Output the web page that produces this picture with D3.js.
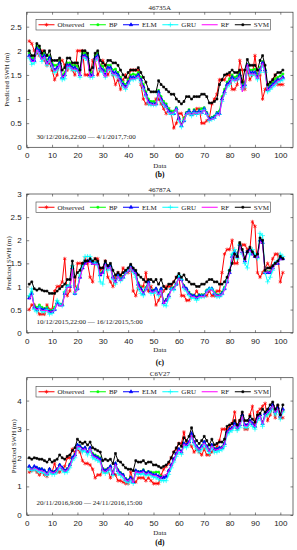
<!DOCTYPE html>
<html>
<head>
<meta charset="utf-8">
<script src="https://cdn.jsdelivr.net/npm/d3@7"></script>
<style>
  body { margin: 0; background: #fff; }
  svg { display: block; }
</style>
</head>
<body>
<div id="chart"></div>
<script>
// series / legend
const seriesNames = ["Observed", "BP", "ELM", "GRU", "RF", "SVM"];
const seriesColors = ["#ff0000", "#00ff00", "#0000ff", "#00ffff", "#ff00ff", "#000000"];
const seriesSymbols = ["asterisk", "square", "triangle", "plus", null, "square"];

const titles = ["46735A", "46787A", "C6V27"];
const dateLabels = [
  "30/12/2016,22:00 \u2014 4/1/2017,7:00",
  "10/12/2015,22:00 \u2014 16/12/2015,5:00",
  "20/11/2016,9:00 \u2014 24/11/2016,15:00"
];
const subLabels = ["(b)", "(c)", "(d)"];
const xTicks = [0, 10, 20, 30, 40, 50, 60, 70, 80, 90, 100];
const yTicksB = [0, 0.5, 1, 1.5, 2, 2.5];
const yTicksC = [0, 0.5, 1, 1.5, 2, 2.5, 3];
const yTicksD = [0, 1, 2, 3, 4];

// ---- 46735A (b)
const obsB = [2.2,2.15,2.0,1.95,1.9,2.0,1.8,1.7,1.75,1.6, 1.4,1.5,1.8,1.8,1.7,1.6,1.7,1.6,1.5,2.0, 2.0,2.0,1.5,1.5,1.5,1.8,1.8,1.5,1.6,1.8, 1.7,1.5,1.6,1.5,1.3,1.4,1.2,1.4,1.5,1.4, 1.6,1.6,1.6,1.6,1.3,1.0,0.9,0.9,0.9,0.9, 1.0,1.0,0.9,0.8,0.7,0.8,0.7,0.4,0.5,0.7, 0.7,0.6,0.7,0.7,0.7,0.7,0.8,0.8,0.5,0.5, 0.55,0.6,0.9,1.0,1.1,1.4,1.4,1.4,1.5,1.5, 1.2,1.2,1.3,1.8,1.6,1.2,1.6,1.4,1.5,1.9, 1.5,1.5,1.0,1.2,1.3,1.3,1.4,1.5,1.3,1.3, 1.3];
const bpB = [1.95,1.85,1.85,2.1,2.05,1.9,1.95,1.8,1.9,1.75, 1.7,1.7,1.8,1.5,1.55,1.75,1.75,1.7,1.7,1.68, 1.55,1.95,1.95,1.9,1.55,1.55,1.9,1.95,1.7,1.68, 1.58,1.7,1.7,1.6,1.62,1.55,1.45,1.35,1.3,1.4, 1.5,1.52,1.5,1.55,1.45,1.3,1.15,1.0,0.95,0.95, 0.92,1.18,1.05,0.95,0.9,0.8,0.75,0.75,0.82,0.62, 0.48,0.6,0.72,0.78,0.7,0.78,0.72,0.78,0.8,0.82, 0.72,0.6,0.62,0.65,0.72,0.75,1.05,1.2,1.35,1.42, 1.5,1.45,1.48,1.55,1.3,1.35,1.72,1.6,1.6,1.62, 1.5,1.65,1.78,1.62,1.25,1.3,1.35,1.42,1.45,1.48, 1.52];
const elmB = [1.9,1.8,1.8,2.05,2.0,1.85,1.9,1.75,1.85,1.7, 1.6,1.65,1.75,1.45,1.5,1.7,1.7,1.65,1.65,1.6, 1.5,1.9,1.9,1.85,1.5,1.5,1.85,1.9,1.65,1.6, 1.5,1.65,1.65,1.55,1.55,1.5,1.4,1.3,1.25,1.35, 1.45,1.45,1.45,1.5,1.4,1.25,1.1,0.95,0.9,0.9, 0.9,1.15,1.0,0.9,0.85,0.75,0.7,0.7,0.8,0.6, 0.45,0.55,0.7,0.75,0.68,0.75,0.7,0.75,0.72,0.8, 0.7,0.58,0.6,0.62,0.7,0.7,1.0,1.15,1.3,1.35, 1.45,1.4,1.42,1.5,1.25,1.3,1.7,1.55,1.55,1.55, 1.45,1.6,1.75,1.6,1.2,1.25,1.3,1.35,1.4,1.4, 1.45];
const gruB = [1.85,1.72,1.75,2.0,1.92,1.78,1.85,1.7,1.8,1.65, 1.55,1.6,1.7,1.4,1.42,1.65,1.65,1.6,1.6,1.58, 1.45,1.85,1.85,1.8,1.45,1.45,1.8,1.85,1.6,1.55, 1.45,1.6,1.6,1.5,1.5,1.45,1.35,1.25,1.2,1.3, 1.4,1.4,1.42,1.45,1.35,1.2,1.05,0.9,0.88,0.88, 0.88,1.1,0.95,0.88,0.82,0.72,0.68,0.7,0.78,0.55, 0.42,0.55,0.68,0.72,0.65,0.72,0.68,0.72,0.7,0.78, 0.68,0.55,0.58,0.6,0.68,0.68,0.95,1.1,1.25,1.3, 1.4,1.38,1.4,1.45,1.2,1.25,1.65,1.5,1.5,1.5, 1.4,1.55,1.7,1.55,1.15,1.2,1.25,1.3,1.35,1.38, 1.4];
const rfB = [1.88,1.78,1.78,2.02,1.95,1.82,1.88,1.72,1.82,1.68, 1.58,1.62,1.72,1.45,1.48,1.68,1.68,1.62,1.62,1.6, 1.48,1.88,1.88,1.82,1.45,1.48,1.82,1.88,1.62,1.58, 1.45,1.62,1.62,1.52,1.52,1.45,1.35,1.28,1.22,1.32, 1.42,1.42,1.42,1.48,1.38,1.22,1.08,0.92,0.9,0.88, 0.88,1.12,0.98,0.9,0.82,0.72,0.7,0.72,0.8,0.58, 0.45,0.55,0.7,0.72,0.68,0.72,0.7,0.72,0.7,0.78, 0.68,0.56,0.58,0.6,0.68,0.66,0.98,1.12,1.28,1.32, 1.42,1.38,1.4,1.48,1.15,1.28,1.72,1.52,1.52,1.52, 1.42,1.6,1.75,1.58,1.18,1.22,1.28,1.32,1.38,1.4, 1.45];
const svmB = [2.0,1.9,1.9,2.15,2.1,1.95,2.0,1.9,2.0,1.8, 1.8,1.8,1.85,1.6,1.65,1.85,1.85,1.75,1.75,1.75, 1.6,2.0,2.0,1.95,1.6,1.65,1.95,2.0,1.8,1.75, 1.7,1.8,1.8,1.75,1.75,1.7,1.6,1.5,1.45,1.55, 1.6,1.6,1.6,1.65,1.55,1.45,1.35,1.2,1.15,1.15, 1.15,1.38,1.3,1.25,1.2,1.15,1.1,1.1,1.0,0.95, 0.9,0.95,1.05,1.05,1.0,1.05,1.05,1.05,1.1,1.1, 1.05,0.92,0.92,0.95,1.0,1.3,1.4,1.5,1.52,1.55, 1.6,1.55,1.55,1.6,1.35,1.6,1.82,1.7,1.7,1.7, 1.6,1.8,1.9,1.7,1.3,1.35,1.4,1.5,1.55,1.55, 1.6];

// ---- 46787A (c)
const obsC = [0.5,0.6,0.6,0.5,0.4,0.4,0.4,0.6,0.5,0.5, 0.9,1.0,1.0,1.1,1.6,0.8,0.9,1.4,1.0,1.5, 1.5,1.5,1.6,1.5,1.2,1.1,1.6,1.6,1.35,1.4, 1.55,1.2,1.1,1.0,1.2,1.3,1.2,1.4,1.3,1.3, 1.4,0.9,0.8,1.0,1.0,1.0,1.3,0.9,1.0,0.9, 0.6,0.7,0.8,0.9,1.0,1.0,1.0,1.1,1.2,1.2, 0.8,0.8,0.7,0.7,0.8,0.8,0.9,0.8,0.8,0.8, 0.8,0.9,0.8,0.8,0.9,0.9,1.3,1.7,1.8,1.8, 2.0,1.5,1.5,1.9,1.9,1.9,1.8,1.8,2.4,2.3, 1.3,1.2,1.3,1.4,1.5,1.4,1.6,1.7,1.7,1.1, 1.3];
const bpC = [0.78,0.88,0.58,0.55,0.6,0.55,0.52,0.55,0.48,0.48, 0.55,0.68,0.62,0.62,0.88,1.02,1.02,1.42,0.88,0.98, 1.22,1.42,1.52,1.55,1.55,1.52,1.52,1.5,1.28,1.32, 1.5,1.42,1.45,1.22,1.12,1.25,1.18,1.22,1.3,1.38, 1.45,1.35,1.3,1.08,0.98,0.88,0.98,1.1,0.92,0.92, 0.95,0.88,0.95,0.68,0.72,0.82,0.95,0.98,1.05,1.2, 1.15,1.02,0.95,0.88,0.82,0.8,0.78,0.82,0.82,0.82, 0.92,0.95,0.95,0.88,0.82,0.82,0.88,0.98,1.12,1.32, 1.68,1.75,1.68,1.92,1.75,1.58,1.75,1.8,1.72,1.65, 1.68,2.0,1.95,1.32,1.32,1.32,1.42,1.5,1.52,1.62, 1.6];
const elmC = [0.75,0.85,0.55,0.5,0.55,0.5,0.5,0.5,0.45,0.45, 0.5,0.65,0.6,0.6,0.85,1.0,1.0,1.4,0.85,0.95, 1.2,1.4,1.5,1.55,1.55,1.5,1.5,1.5,1.25,1.3, 1.5,1.4,1.45,1.2,1.1,1.25,1.15,1.2,1.3,1.35, 1.45,1.35,1.3,1.05,0.95,0.85,0.95,1.1,0.9,0.9, 0.95,0.85,0.95,0.65,0.7,0.8,0.95,0.95,1.05,1.2, 1.15,1.0,0.95,0.85,0.8,0.8,0.75,0.8,0.8,0.8, 0.9,0.95,0.95,0.85,0.8,0.8,0.85,0.95,1.1,1.3, 1.65,1.75,1.65,1.9,1.75,1.55,1.75,1.8,1.7,1.65, 1.65,2.0,1.95,1.3,1.3,1.3,1.4,1.5,1.5,1.6, 1.6];
const gruC = [0.8,0.95,0.5,0.45,0.55,0.45,0.45,0.5,0.4,0.42, 0.5,0.7,0.62,0.58,0.88,1.0,1.02,1.45,0.85,0.95, 1.25,1.45,1.65,1.65,1.65,1.55,1.5,1.45,1.1,1.05, 1.45,1.35,1.4,1.15,1.05,1.2,1.12,1.18,1.28,1.35, 1.4,1.3,1.2,0.95,0.85,0.8,0.95,1.05,0.85,0.85, 0.9,0.8,0.9,0.6,0.58,0.75,0.95,0.92,1.05,1.25, 1.15,0.95,0.9,0.8,0.75,0.75,0.7,0.75,0.78,0.78, 0.9,0.95,0.95,0.85,0.78,0.78,0.82,0.95,1.12,1.35, 1.7,1.8,1.6,1.9,1.7,1.5,1.4,1.7,1.8,1.7, 1.6,2.15,2.1,1.3,1.1,1.2,1.35,1.5,1.55,1.7, 1.65];
const rfC = [0.72,0.82,0.55,0.5,0.52,0.48,0.48,0.48,0.45,0.45, 0.48,0.62,0.58,0.58,0.82,0.98,0.98,1.38,0.85,0.92, 1.18,1.38,1.48,1.52,1.52,1.48,1.48,1.48,1.25,1.28, 1.48,1.38,1.42,1.18,1.08,1.22,1.12,1.18,1.28,1.32, 1.42,1.32,1.28,1.02,0.92,0.85,0.92,1.08,0.88,0.88, 0.92,0.82,0.92,0.62,0.7,0.78,0.92,0.95,1.05,1.18, 1.12,0.98,0.92,0.85,0.78,0.78,0.75,0.78,0.78,0.78, 0.88,0.92,0.92,0.85,0.8,0.8,0.82,0.92,1.08,1.28, 1.62,1.72,1.62,1.88,1.72,1.55,1.72,1.78,1.7,1.62, 1.62,1.98,1.92,1.3,1.32,1.3,1.38,1.48,1.5,1.58, 1.58];
const svmC = [1.05,1.1,0.95,0.92,0.95,0.92,0.9,0.9,0.85,0.85, 0.85,0.9,0.95,1.0,1.05,1.15,1.15,1.55,1.2,1.3, 1.35,1.5,1.55,1.55,1.6,1.55,1.6,1.55,1.4,1.4, 1.55,1.45,1.5,1.35,1.25,1.3,1.25,1.3,1.35,1.4, 1.48,1.4,1.35,1.25,1.2,1.15,1.1,1.15,1.15,1.1, 1.15,1.05,1.15,1.0,0.95,1.05,1.05,1.1,1.2,1.28, 1.2,1.25,1.15,1.1,1.05,1.05,1.0,1.0,1.05,1.05, 1.1,1.15,1.15,1.1,1.1,1.05,1.05,1.1,1.2,1.35, 1.5,1.7,1.65,1.95,1.8,1.6,1.75,1.85,1.75,1.65, 1.7,2.05,2.0,1.35,1.4,1.4,1.45,1.5,1.55,1.65, 1.6];

// ---- C6V27 (d)
const obsD = [1.5,1.55,1.6,1.5,1.4,1.5,1.4,1.35,1.6,1.5, 1.8,1.5,1.5,1.6,1.7,2.0,2.0,2.3,2.2,2.3, 2.2,1.9,1.8,1.8,1.75,1.6,1.3,1.4,1.4,1.6, 1.5,1.6,1.3,1.5,1.4,1.2,1.2,1.15,1.1,1.1, 1.5,1.2,1.15,1.3,1.3,1.3,1.2,1.3,1.2,1.1, 1.1,1.1,1.4,1.6,1.7,1.8,2.0,2.2,2.3,2.5, 2.5,2.9,2.5,2.5,2.4,2.2,2.3,2.2,2.1,2.3, 2.1,2.1,2.2,2.3,2.4,2.6,3.0,3.0,3.0,3.1, 3.2,3.6,3.0,3.3,3.5,3.0,3.0,3.5,3.8,3.2, 3.6,3.7,3.8,3.9,3.3,3.5,3.8,3.4,3.8,3.4, 3.4];
const bpD = [1.68,1.62,1.68,1.65,1.62,1.6,1.55,1.48,1.6,1.52, 1.52,1.6,1.75,1.65,1.55,1.62,1.78,2.02,2.12,2.45, 2.42,2.32,2.35,2.22,2.35,2.15,2.1,2.05,2.0,1.62, 1.58,1.62,1.7,1.48,1.8,1.58,1.48,1.42,1.28,1.22, 1.32,1.18,1.55,1.52,1.52,1.58,1.48,1.52,1.5,1.48, 1.5,1.5,1.35,1.32,1.38,1.55,1.75,1.95,2.15,2.3, 2.22,2.5,2.45,2.55,2.82,2.55,2.42,2.32,2.42,2.55, 2.42,2.28,2.45,2.32,2.32,2.35,2.38,2.52,2.9,3.0, 3.05,3.18,3.05,3.15,3.45,3.15,3.15,3.28,3.2,3.1, 3.38,3.48,3.25,3.5,3.55,3.65,3.8,3.6,3.7,3.45, 3.65];
const elmD = [1.7,1.6,1.7,1.65,1.6,1.6,1.55,1.45,1.6,1.5, 1.5,1.6,1.75,1.65,1.55,1.6,1.75,2.0,2.1,2.45, 2.4,2.3,2.35,2.2,2.35,2.1,2.05,2.0,1.95,1.6, 1.55,1.6,1.7,1.45,1.8,1.55,1.45,1.4,1.25,1.2, 1.3,1.15,1.55,1.5,1.5,1.55,1.45,1.5,1.45,1.4, 1.4,1.35,1.3,1.3,1.35,1.55,1.75,1.95,2.15,2.3, 2.2,2.5,2.45,2.55,2.85,2.55,2.4,2.3,2.4,2.55, 2.4,2.25,2.45,2.3,2.3,2.35,2.35,2.5,2.9,3.0, 3.05,3.2,3.05,3.15,3.5,3.15,3.15,3.3,3.2,3.1, 3.4,3.5,3.2,3.55,3.6,3.7,3.85,3.6,3.75,3.45, 3.7];
const gruD = [1.6,1.55,1.6,1.55,1.5,1.5,1.45,1.38,1.5,1.42, 1.42,1.5,1.65,1.55,1.48,1.5,1.65,1.9,2.0,2.35, 2.3,2.2,2.25,2.1,2.25,2.0,1.95,1.9,1.85,1.5, 1.45,1.5,1.6,1.38,1.7,1.45,1.38,1.3,1.18,1.12, 1.2,1.1,1.45,1.42,1.42,1.45,1.38,1.42,1.38,1.32, 1.3,1.25,1.2,1.2,1.2,1.42,1.65,1.85,2.05,2.2, 2.12,2.4,2.35,2.45,2.72,2.45,2.3,2.2,2.3,2.45, 2.3,2.15,2.35,2.2,2.2,2.25,2.28,2.4,2.8,2.9, 2.95,3.1,2.95,3.05,3.4,3.05,3.05,3.2,3.1,3.0, 3.3,3.4,3.1,3.45,3.5,3.6,3.75,3.5,3.65,3.35, 3.6];
const rfD = [1.65,1.58,1.65,1.6,1.55,1.55,1.5,1.42,1.55,1.48, 1.48,1.58,1.72,1.62,1.52,1.58,1.72,1.95,2.05,2.4, 2.38,2.28,2.32,2.18,2.32,2.08,2.02,1.98,1.9,1.55, 1.52,1.58,1.68,1.42,1.78,1.52,1.42,1.38,1.22,1.18, 1.28,1.12,1.52,1.48,1.48,1.52,1.42,1.48,1.42,1.38, 1.38,1.32,1.28,1.4,1.4,1.55,1.72,1.92,2.12,2.28, 2.18,2.48,2.42,2.52,2.8,2.52,2.38,2.28,2.38,2.52, 2.38,2.22,2.42,2.28,2.28,2.32,2.35,2.48,2.88,2.98, 3.02,3.15,3.02,3.12,3.45,3.12,3.12,3.28,3.18,3.08, 3.38,3.48,3.18,3.5,3.58,3.68,3.82,3.58,3.72,3.42, 3.68];
const svmD = [2.0,1.95,2.0,1.98,1.95,1.95,1.9,1.85,1.95,1.85, 1.9,1.95,2.1,2.0,1.95,2.05,2.1,2.25,2.35,2.65, 2.55,2.5,2.55,2.45,2.55,2.35,2.3,2.25,2.2,1.9, 1.95,1.9,1.95,1.8,2.15,1.9,1.85,1.75,1.65,1.6, 1.6,1.55,1.9,1.85,1.85,1.9,1.8,1.85,1.85,1.75, 1.75,1.7,1.65,1.7,1.75,1.85,2.0,2.2,2.35,2.5, 2.4,2.7,2.6,2.75,3.05,2.75,2.6,2.5,2.6,2.75, 2.6,2.45,2.65,2.45,2.5,2.55,2.55,2.65,3.1,3.15, 3.2,3.3,3.15,3.3,3.6,3.3,3.3,3.45,3.35,3.25, 3.5,3.55,3.7,3.6,3.7,3.85,3.95,3.7,3.85,3.5, 3.85];

// panel layout
const panels = [
  { series: [obsB, bpB, elmB, gruB, rfB, svmB], yMax: 2.8, yTicks: yTicksB,
    top: 12.2, bottom: 147.3, titleY: 9.5, legendY: 19.5, dateY: 139, dataY: 167.5, subY: 177, yLabelX: 7 },
  { series: [obsC, bpC, elmC, gruC, rfC, svmC], yMax: 3, yTicks: yTicksC,
    top: 194, bottom: 332.7, titleY: 191.5, legendY: 202, dateY: 324, dataY: 351.5, subY: 365, yLabelX: 9 },
  { series: [obsD, bpD, elmD, gruD, rfD, svmD], yMax: 4.8, yTicks: yTicksD,
    top: 377.7, bottom: 515, titleY: 375.5, legendY: 386.5, dateY: 505, dataY: 535, subY: 544.5, yLabelX: 13.5 }
];

const W = 297, H = 550;
const left = 26.7, right = 293;
const serif = "'Liberation Serif', 'Times New Roman', serif";
const sans = "'Liberation Sans', Arial, sans-serif";

const svg = d3.select("#chart").append("svg")
  .attr("width", W).attr("height", H);

const symbolTypes = {
  asterisk: d3.symbolAsterisk, square: d3.symbolSquare,
  triangle: d3.symbolTriangle, plus: d3.symbolPlus
};
const symbolSizes = { asterisk: 10, square: 3.5, triangle: 5, plus: 9 };

function markerPath(kind) {
  return d3.symbol().type(symbolTypes[kind]).size(symbolSizes[kind])();
}

panels.forEach((p, pi) => {
  const g = svg.append("g");
  const x = d3.scaleLinear().domain([0, 105]).range([left, right]);
  const y = d3.scaleLinear().domain([0, p.yMax]).range([p.bottom, p.top]);

  // axes, ticks pointing inward (MATLAB style, box on)
  g.append("g").attr("transform", `translate(0,${p.bottom})`)
    .call(d3.axisBottom(x).tickValues(xTicks).tickSizeInner(-2.5).tickSizeOuter(0).tickPadding(5.5));
  g.append("g").attr("transform", `translate(0,${p.top})`)
    .call(d3.axisTop(x).tickValues(xTicks).tickSizeInner(-2.5).tickSizeOuter(0).tickFormat(""));
  g.append("g").attr("transform", `translate(${left},0)`)
    .call(d3.axisLeft(y).tickValues(p.yTicks).tickSizeInner(-2.5).tickSizeOuter(0).tickPadding(5)
      .tickFormat(d3.format("")));
  g.append("g").attr("transform", `translate(${right},0)`)
    .call(d3.axisRight(y).tickValues(p.yTicks).tickSizeInner(-2.5).tickSizeOuter(0).tickFormat(""));
  g.selectAll(".domain").remove();
  g.selectAll(".tick line").attr("stroke", "#333").attr("stroke-width", 0.6);
  g.selectAll(".tick text").attr("font-family", sans).attr("font-size", 8).attr("fill", "#222");

  // lines + markers
  const line = d3.line().x((d, i) => x(i + 1)).y(d => y(d));
  p.series.forEach((vals, si) => {
    g.append("path").datum(vals)
      .attr("d", line)
      .attr("fill", "none")
      .attr("stroke", seriesColors[si])
      .attr("stroke-width", 1);
    const kind = seriesSymbols[si];
    if (kind) {
      const mp = markerPath(kind);
      g.append("g").selectAll("path").data(vals).enter().append("path")
        .attr("transform", (d, i) => `translate(${x(i + 1)},${y(d)})`)
        .attr("d", mp)
        .attr("fill", (kind === "square" || kind === "triangle") ? seriesColors[si] : "none")
        .attr("stroke", seriesColors[si])
        .attr("stroke-width", 0.7);
    }
  });

  // frame
  g.append("rect")
    .attr("x", left).attr("y", p.top)
    .attr("width", right - left).attr("height", p.bottom - p.top)
    .attr("fill", "none").attr("stroke", "#333").attr("stroke-width", 0.7);

  // title
  g.append("text").attr("x", (left + right) / 2).attr("y", p.titleY)
    .attr("text-anchor", "middle").attr("font-family", serif).attr("font-size", 7)
    .attr("fill", "#222").text(titles[pi]);

  // axis labels
  g.append("text").attr("x", (left + right) / 2).attr("y", p.dataY)
    .attr("text-anchor", "middle").attr("font-family", serif).attr("font-size", 7)
    .attr("fill", "#222").text("Data");
  g.append("text")
    .attr("transform", `translate(${p.yLabelX},${(p.top + p.bottom) / 2}) rotate(-90)`)
    .attr("dy", "0.35em")
    .attr("text-anchor", "middle").attr("font-family", serif).attr("font-size", 6.8)
    .attr("fill", "#222").text("Predicted SWH (m)");
  g.append("text").attr("x", (left + right) / 2).attr("y", p.subY)
    .attr("text-anchor", "middle").attr("font-family", serif).attr("font-size", 7.5)
    .attr("font-weight", "bold").attr("fill", "#000").text(subLabels[pi]);

  // date range note
  g.append("text").attr("x", 36.5).attr("y", p.dateY)
    .attr("font-family", serif).attr("font-size", 7).attr("fill", "#222")
    .text(dateLabels[pi]);

  // legend
  const legX = 36, legW = 234.5, legH = 10.5;
  const leg = g.append("g").attr("transform", `translate(${legX},${p.legendY})`);
  leg.append("rect").attr("width", legW).attr("height", legH)
    .attr("fill", "#fff").attr("stroke", "#444").attr("stroke-width", 0.6);
  const lineLen = 16, gapA = 3;
  const items = seriesNames.map((name, si) => {
    const it = leg.append("g");
    const t = it.append("text").attr("x", lineLen + gapA).attr("y", legH / 2).attr("dy", "0.35em")
      .attr("font-family", serif).attr("font-size", 7).attr("fill", "#222").text(name);
    return { it, w: lineLen + gapA + t.node().getComputedTextLength(), si };
  });
  const totalW = d3.sum(items, d => d.w);
  const pad = (legW - 4 - totalW) / (items.length - 1);
  let cx = 2.5;
  items.forEach(({ it, w, si }) => {
    it.attr("transform", `translate(${cx},0)`);
    it.append("line").attr("x1", 0).attr("x2", lineLen)
      .attr("y1", legH / 2).attr("y2", legH / 2)
      .attr("stroke", seriesColors[si]).attr("stroke-width", 1);
    const kind = seriesSymbols[si];
    if (kind) {
      it.append("path").attr("transform", `translate(${lineLen / 2},${legH / 2})`)
        .attr("d", markerPath(kind))
        .attr("fill", (kind === "square" || kind === "triangle") ? seriesColors[si] : "none")
        .attr("stroke", seriesColors[si]).attr("stroke-width", 0.7);
    }
    cx += w + pad;
  });
});
</script>
</body>
</html>
